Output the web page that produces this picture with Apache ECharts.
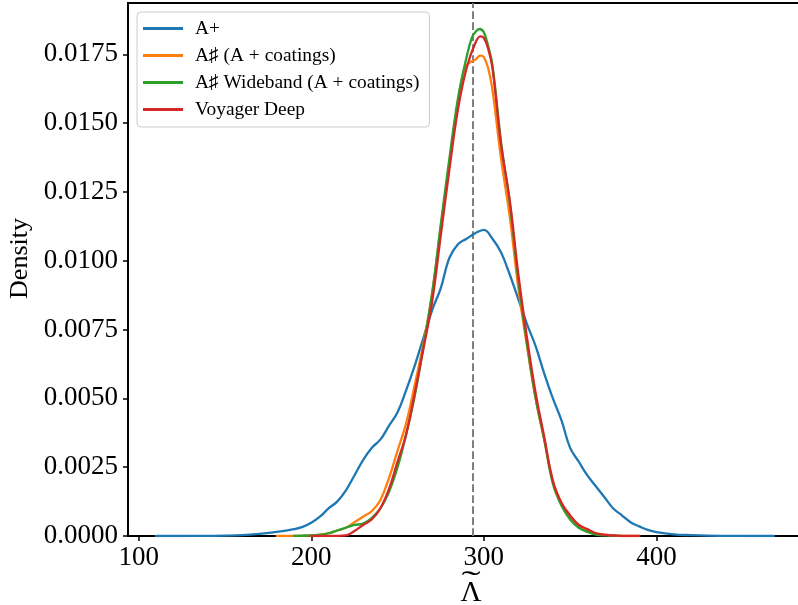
<!DOCTYPE html>
<html>
<head>
<meta charset="utf-8">
<script src="https://cdn.jsdelivr.net/npm/echarts@6/dist/echarts.min.js"></script>
<style>
html,body{margin:0;padding:0;background:#fff;}
#chart{width:798px;height:605px;}
</style>
</head>
<body>
<div id="chart"></div>
<script>
// ---- data ----
const seriesNames = ['A+', 'A\u266F (A + coatings)', 'A\u266F Wideband (A + coatings)', 'Voyager Deep'];

const aplusX = [110,120,130,140,150,160,170,180,190,195,200,205,210,215,220,225,230,235,240,245,250,255,260,265,270,275,280,285,290,295,300,305,310,315,320,325,330,335,340,345,350,355,360,365,370,375,380,385,390,395,400,410,420,430,440,450,460,468];
const aplusY = [0,0,0.000002,0.000005,0.00001,0.00003,0.00008,0.00015,0.00025,0.00033,0.00048,0.0007,0.001,0.00125,0.00165,0.0022,0.00276,0.0032,0.0035,0.004,0.0045,0.0053,0.0062,0.0072,0.0082,0.009,0.0101,0.0106,0.0108,0.011,0.01112,0.0108,0.0103,0.0095,0.0086,0.0077,0.0069,0.0059,0.005,0.0042,0.0032,0.0027,0.0022,0.0018,0.0014,0.001,0.00075,0.0005,0.00035,0.00022,0.00014,0.00006,0.00003,0.00001,0.000005,0.000002,0,0];

const asharpX = [180,190,200,205,210,215,220,225,230,235,240,245,250,255,260,265,270,275,280,285,288,290,293,295,298,300,302.5,305,310,315,320,325,330,335,340,345,350,355,360,365,370,375,380,390];
const asharpY = [0,0.000005,0.00002,0.00005,0.0001,0.0002,0.0003,0.0005,0.0007,0.0009,0.0013,0.0021,0.0031,0.0041,0.0055,0.007,0.0088,0.0112,0.0135,0.0158,0.0168,0.0171,0.01725,0.0173,0.01745,0.0174,0.0170,0.0162,0.0137,0.0116,0.009,0.0069,0.005,0.0035,0.002,0.0012,0.0007,0.0004,0.0002,0.0001,0.00005,0.00002,0,0];

const widebandX = [190,200,205,210,215,220,225,230,235,240,245,250,255,260,265,270,275,280,285,290,293,295,297.5,300,302.5,305,310,315,320,325,330,335,340,345,350,355,360,365,370,380];
const widebandY = [0,0.00002,0.00004,0.0001,0.0002,0.0003,0.0004,0.00045,0.00065,0.001,0.0016,0.0025,0.0037,0.0051,0.0069,0.0088,0.0113,0.0137,0.0159,0.0174,0.0181,0.0183,0.01842,0.0183,0.0178,0.0171,0.0143,0.0121,0.0093,0.007,0.005,0.0035,0.0019,0.0011,0.0006,0.0003,0.00015,0.00005,0.00002,0];

const voyagerX = [200,215,220,225,230,235,240,245,250,255,260,265,270,275,280,285,290,295,298,300,302.5,305,310,315,320,325,330,335,340,345,350,355,360,365,370,375,380,390];
const voyagerY = [0,0.000005,0.00002,0.00018,0.0004,0.0006,0.001,0.0017,0.0027,0.0037,0.0052,0.0068,0.0085,0.0109,0.0133,0.0155,0.017,0.0179,0.01815,0.0181,0.0177,0.017,0.0142,0.0122,0.0095,0.0072,0.0052,0.0036,0.002,0.0012,0.00075,0.0004,0.00025,0.0001,0.00004,0.00002,0,0];

const medianLambda = 293.5;
const xTicks = [100, 200, 300, 400];
const yTicks = [0, 0.0025, 0.005, 0.0075, 0.01, 0.0125, 0.015, 0.0175];
const xAxisTitle = '\u039B';
const xAxisAccent = '\u02DC';

// ---- chart ----
const colors = ['#1f77b4', '#ff7f0e', '#2ca02c', '#d62728'];
const FONT = '"Liberation Serif", "DejaVu Serif", serif';
const zip = (xs, ys) => xs.map((x, i) => [x, ys[i]]);
const xsList = [aplusX, asharpX, widebandX, voyagerX];
const ysList = [aplusY, asharpY, widebandY, voyagerY];

const series = seriesNames.map((name, i) => ({
  name: name,
  type: 'line',
  data: zip(xsList[i], ysList[i]),
  showSymbol: false,
  symbol: 'none',
  smooth: 0.4,
  lineStyle: { color: colors[i], width: 2.3, join: 'round', cap: 'round' },
  itemStyle: { color: colors[i] },
  z: 3 + i
}));
series[0].markLine = {
  silent: true,
  symbol: ['none', 'none'],
  label: { show: false },
  lineStyle: { color: '#7f7f7f', width: 2, type: [7.7, 3.3] },
  data: [{ xAxis: medianLambda }],
  z: 2
};

const chart = echarts.init(document.getElementById('chart'), null, { renderer: 'canvas' });
chart.setOption({
  animation: false,
  backgroundColor: '#fff',
  color: colors,
  grid: {
    left: 128, top: 3, right: -2, bottom: 69,
    outerBoundsMode: 'none',
    containLabel: false,
    show: true, borderColor: '#000', borderWidth: 2, backgroundColor: 'transparent'
  },
  legend: {
    orient: 'vertical',
    left: 137, top: 12,
    padding: [7, 10, 8, 6],
    itemGap: 8,
    itemWidth: 40,
    itemHeight: 3,
    icon: 'rect',
    backgroundColor: 'rgba(255,255,255,0.8)',
    borderColor: '#cccccc',
    borderWidth: 1,
    borderRadius: 4,
    textStyle: { fontFamily: FONT, fontSize: 19.4, color: '#000', lineHeight: 19, padding: [0, 0, 0, 7] },
    data: seriesNames
  },
  graphic: [{
    type: 'text',
    x: 471, y: 583,
    scaleX: 1.6, scaleY: 0.8,
    silent: true,
    style: { text: xAxisAccent, font: '36px "Liberation Serif", serif', fill: '#000', textAlign: 'center', textVerticalAlign: 'middle' }
  }],
  xAxis: {
    type: 'value',
    min: 93.8, max: 483.2,
    name: xAxisTitle,
    nameLocation: 'middle',
    nameGap: 43,
    nameTextStyle: { fontFamily: FONT, fontSize: 29, color: '#000', padding: [0, 0, 0, 14] },
    axisLine: { show: true, onZero: false, lineStyle: { color: '#000', width: 2 } },
    axisTick: { show: true, inside: false, length: 5, lineStyle: { color: '#000', width: 1.5 }, customValues: xTicks },
    axisLabel: { fontFamily: FONT, fontSize: 27, color: '#000', margin: 8, customValues: xTicks, formatter: v => String(v) },
    splitLine: { show: false }
  },
  yAxis: {
    type: 'value',
    min: 0, max: 0.019364,
    name: 'Density',
    nameLocation: 'middle',
    nameGap: 90,
    nameTextStyle: { fontFamily: FONT, fontSize: 26, color: '#000', padding: [0, 0, 0, 22] },
    axisLine: { show: true, onZero: false, lineStyle: { color: '#000', width: 2 } },
    axisTick: { show: true, inside: false, length: 5, lineStyle: { color: '#000', width: 1.5 }, customValues: yTicks },
    axisLabel: { fontFamily: FONT, fontSize: 27, color: '#000', margin: 10, customValues: yTicks, formatter: v => v.toFixed(4) },
    splitLine: { show: false }
  },
  series: series
});
</script>
</body>
</html>
